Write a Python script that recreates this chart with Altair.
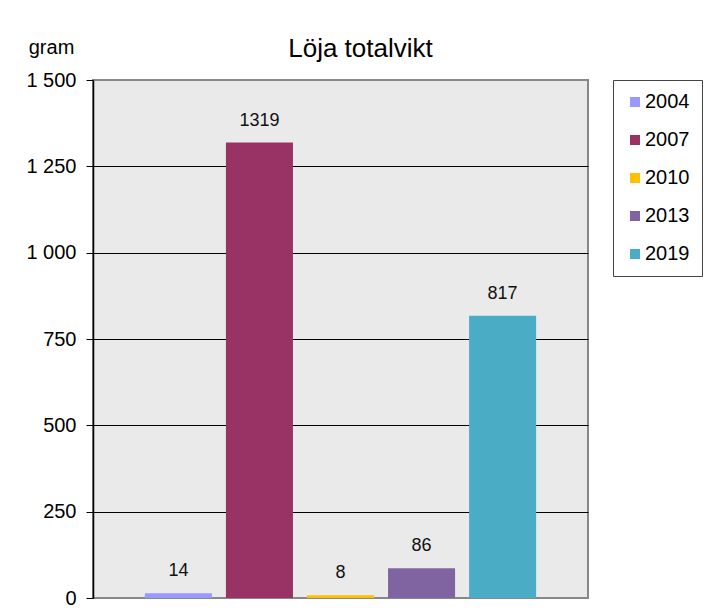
import altair as alt
import pandas as pd

years = ["2004", "2007", "2010", "2013", "2019"]
values = [14, 1319, 8, 86, 817]
colors = ["#9999ff", "#993366", "#ffc000", "#8064a2", "#4bacc6"]
y_ticks = [0, 250, 500, 750, 1000, 1250, 1500]

df = pd.DataFrame({"year": years, "value": values})

FONT = "Liberation Sans"

x_scale = alt.Scale(domain=years, paddingInner=0.173, paddingOuter=0.64)

y_enc = alt.Y("value:Q",
              scale=alt.Scale(domain=[0, 1500], nice=False),
              axis=alt.Axis(values=y_ticks, title="gram",
                            labelExpr="replace(format(datum.value, ','), ',', ' ')",
                            labelFont=FONT, labelFontSize=20, labelColor="black",
                            labelPadding=10,
                            titleFont=FONT, titleFontSize=20, titleFontWeight="normal",
                            titleColor="black", titleAngle=0, titleAlign="center",
                            titleBaseline="middle", titleX=-42, titleY=-33,
                            domainColor="black", domainWidth=1.5,
                            tickColor="black", tickSize=7,
                            grid=True,
                            gridColor={"condition": {"test": "datum.value == 0 || datum.value == 1500",
                                                     "value": "#888888"},
                                       "value": "black"},
                            gridWidth=1))

bars = alt.Chart(df).mark_bar().encode(
    x=alt.X("year:N", axis=None, scale=x_scale),
    y=y_enc,
    color=alt.Color("year:N",
                    scale=alt.Scale(domain=years, range=colors),
                    legend=alt.Legend(title=None, orient="none", legendX=520, legendY=0,
                                      symbolType="square", symbolSize=100,
                                      symbolStrokeWidth=0,
                                      labelFont=FONT, labelFontSize=20, labelColor="black",
                                      labelOffset=0, rowPadding=18, padding=12,
                                      strokeColor="#444444", fillColor="white")),
)

labels = alt.Chart(df).mark_text(font=FONT, fontSize=18, color="#111111",
                                 baseline="middle", dy=-22).encode(
    x=alt.X("year:N", scale=x_scale),
    y=alt.Y("value:Q"),
    text=alt.Text("value:Q", format="d"),
)

chart = alt.layer(bars, labels).properties(
    width=495, height=518,
    title=alt.TitleParams("Löja totalvikt", font=FONT, fontSize=26, fontWeight="normal",
                          color="black", anchor="middle", dx=20, offset=-25),
    autosize=alt.AutoSizeParams(type="none"),
    padding={"left": 85, "top": 72, "right": 116, "bottom": 10},
).configure(
    background="white"
).configure_view(
    fill="#eaeaea", stroke="#888888", strokeWidth=2
)

chart.save("out.html", embed_options={"renderer": "svg", "actions": False})
